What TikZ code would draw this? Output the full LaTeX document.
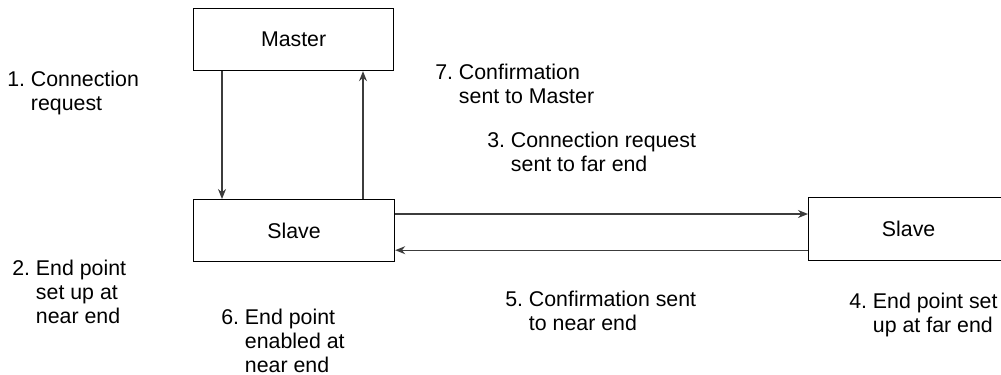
\documentclass[tikz,border=0pt]{standalone}
\usepackage{fontspec}
\setmainfont{Liberation Sans}
\usetikzlibrary{arrows.meta,calc}
\definecolor{wire}{RGB}{60,60,60}
\tikzset{box/.style={draw=black,line width=0.9pt,anchor=north west,inner sep=0pt,font=\fontsize{16}{18}\selectfont},
    flow/.style={draw=wire,line width=0.9pt,-{Stealth[length=7.5pt,width=6pt]}},
    note/.style={anchor=base west,inner sep=0pt,font=\fontsize{16}{18}\selectfont}}
\newcommand{\stagelabel}[2]{\begin{tabular}[t]{@{}l@{\ }l@{}}#1&#2\end{tabular}}

\begin{document}
\begin{tikzpicture}[x=0.75pt,y=0.75pt,yscale=-1,xscale=1]
\useasboundingbox (0,0) rectangle (1001,375);

%Boxes
\node[box,minimum width=150pt,minimum height=46.5pt] (master) at (193,8) {Master};
\node[box,minimum width=150.75pt,minimum height=46.5pt] (nearslave) at (193,199) {Slave};
\node[box,minimum width=146.25pt,minimum height=47.25pt] (farslave) at (808,197) {\hspace*{3.75pt}Slave};

%Master <-> near Slave
\draw[flow] ([xshift=21.75pt]master.south west) -- ([xshift=21.75pt]nearslave.north west);
\draw[flow] ([xshift=127.5pt]nearslave.north west) -- ([xshift=127.5pt]master.south west);

%near Slave <-> far Slave (yshift runs upside down here)
\coordinate (req) at ([yshift=11.25pt]nearslave.north east);
\coordinate (conf) at ([yshift=-9pt]nearslave.south east);
\draw[flow] (req) -- (req -| farslave.west);
\draw[flow] (conf -| farslave.west) -- (conf);

% Text Nodes
\node[note] (n1) at (7,86) {\stagelabel{1.}{Connection\\ & request}};
\node[note] (n2) at (12,275) {\stagelabel{2.}{End point\\ & set up at\\ & near end}};
\node[note] (n3) at (487,147) {\stagelabel{3.}{Connection request\\ & sent to far end}};
\node[note] (n4) at (849,308) {\stagelabel{4.}{End point set\\ & up at far end}};
\node[note] (n5) at (505,306) {\stagelabel{5.}{Confirmation sent\\ & to near end}};
\node[note] (n6) at (221,324) {\stagelabel{6.}{End point\\ & enabled at\\ & near end}};
\node[note] (n7) at (435,79) {\stagelabel{7.}{Confirmation\\ & sent to Master}};

\end{tikzpicture}
\end{document}
